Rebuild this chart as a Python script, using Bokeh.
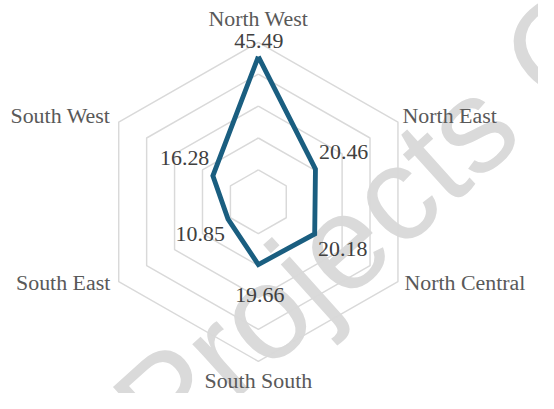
import math
from bokeh.plotting import figure
from bokeh.models import Range1d
from bokeh.core.properties import value
from bokeh.embed import file_html
from bokeh.resources import INLINE

# ---- data ----
categories = ["North West", "North East", "North Central", "South South", "South East", "South West"]
values = [45.49, 20.46, 20.18, 19.66, 10.85, 16.28]
value_labels = ["45.49", "20.46", "20.18", "19.66", "10.85", "16.28"]
ring_levels = [10, 20, 30, 40, 50]
axis_max = 50

# ---- styling / layout ----
W, H = 538, 393                 # figure size (fits window with 8px margin)
REF_W, REF_H = 554, 409         # design canvas in px
S = W / REF_W                   # render scale
k = 3.32                        # design px per data unit
CX, CY = 265.5, 209.5           # centre in design px
BASE_FIX = 8.0                  # baseline correction (design px)

# category label offsets from outer vertex (design px, +x right, +y up), align
cat_off = [(0, 16.5, "center"), (4.7, -1.5, "left"), (6.7, -9.5, "left"),
           (0, -27.5, "center"), (-8.7, -9.5, "right"), (-8.7, -1.5, "right")]
# value label offsets from data point
val_off = [(0.5, 8.5, "center"), (3.7, 9.5, "left"), (3.5, -24.0, "left"),
           (1.5, -40.0, "center"), (-3.3, -23.5, "right"), (-3.7, 10.5, "right")]

FONT_PX = 22.5 * S
n = len(categories)
angles = [2 * math.pi * i / n for i in range(n)]

def polar(v, a):
    return v * math.sin(a), v * math.cos(a)

p = figure(width=W, height=H, output_backend="svg", toolbar_location=None,
           x_range=Range1d(-CX / k, (REF_W - CX) / k),
           y_range=Range1d(-(REF_H - CY) / k, CY / k),
           min_border=0, background_fill_color="white", border_fill_color="white")
p.axis.visible = False
p.grid.visible = False
p.outline_line_color = None

# watermark
wm_anchor = ((139 - CX) / k, (CY - 445) / k)
p.text(x=[wm_anchor[0]], y=[wm_anchor[1]], text=["Projects Co"], angle=math.radians(42),
       text_font=value("Liberation Sans"), text_font_size=f"{138 * S:.1f}px", text_color="#dadada",
       text_align="left", text_baseline="alphabetic")

# rings
for lv in ring_levels:
    xs = [polar(lv, a)[0] for a in angles] + [polar(lv, angles[0])[0]]
    ys = [polar(lv, a)[1] for a in angles] + [polar(lv, angles[0])[1]]
    p.line(xs, ys, line_color="#d9d9d9", line_width=1.5 * S)

# data polygon
dx = [polar(v, a)[0] for v, a in zip(values, angles)]
dy = [polar(v, a)[1] for v, a in zip(values, angles)]
p.line(dx + [dx[0]], dy + [dy[0]], line_color="#1a5e80", line_width=5 * S, line_join="miter")

# category labels
for c, a, (ox, oy, al) in zip(categories, angles, cat_off):
    vx, vy = polar(axis_max, a)
    p.text(x=[vx + ox / k], y=[vy + (oy + BASE_FIX) / k], text=[c], text_font=value("Liberation Serif"),
           text_font_size=f"{FONT_PX:.1f}px", text_color="#595959", text_align=al,
           text_baseline="alphabetic")

# value labels
for t, x0, y0, (ox, oy, al) in zip(value_labels, dx, dy, val_off):
    p.text(x=[x0 + ox / k], y=[y0 + (oy + BASE_FIX) / k], text=[t], text_font=value("Liberation Serif"),
           text_font_size=f"{FONT_PX:.1f}px", text_color="#404040", text_align=al,
           text_baseline="alphabetic")

open("out.html", "w").write(file_html(p, INLINE))
